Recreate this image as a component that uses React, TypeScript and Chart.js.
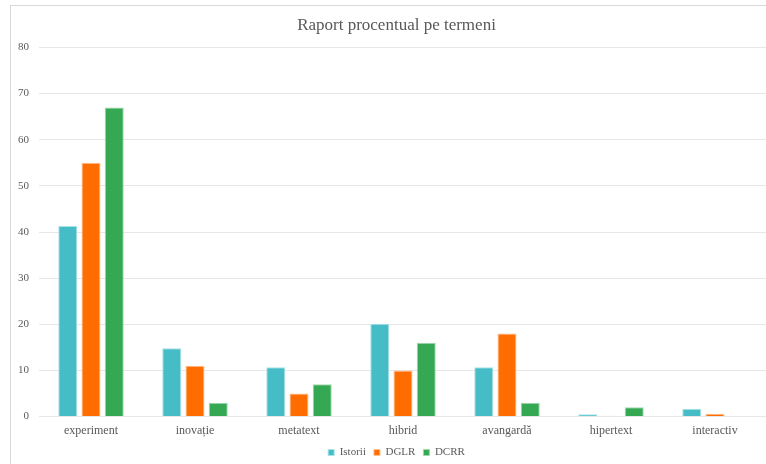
import React, { useEffect, useRef } from "react";
import { Chart, registerables } from "chart.js";

Chart.register(...registerables);

const categories = ["experiment", "inovație", "metatext", "hibrid", "avangardă", "hipertext", "interactiv"];
const istorii = [41.3, 14.8, 10.7, 20.1, 10.7, 0.5, 1.7];
const dglr = [55, 11, 5, 10, 18, 0.2, 0.6];
const dcrr = [67, 3, 7, 16, 3, 2, 0];
const yTicks = [0, 10, 20, 30, 40, 50, 60, 70, 80];

const FONT = "'Liberation Serif', 'Times New Roman', serif";
const TEXT = "#595959";

export default function App() {
  const ref = useRef<HTMLCanvasElement | null>(null);

  useEffect(() => {
    document.documentElement.style.overflow = "hidden";
    document.body.style.overflow = "hidden";
    const canvas = ref.current;
    if (!canvas) return;
    const series = [
      { label: "Istorii", data: istorii, fill: "#46bcc7", edge: "#a9e2e7" },
      { label: "DGLR", data: dglr, fill: "#ff6d00", edge: "#ffbd8a" },
      { label: "DCRR", data: dcrr, fill: "#34a853", edge: "#9fd8ad" },
    ];
    const chart = new Chart(canvas, {
      type: "bar",
      data: {
        labels: categories,
        datasets: series.map((s) => ({
          label: s.label,
          data: s.data,
          backgroundColor: s.fill,
          borderColor: s.edge,
          borderWidth: 1,
          borderSkipped: "start",
          barPercentage: 0.82,
          categoryPercentage: 0.67,
        })),
      },
      options: {
        responsive: false,
        animation: false,
        layout: { padding: { left: 0, right: 0, top: 0, bottom: 6 } },
        plugins: {
          title: {
            display: true,
            text: "Raport procentual pe termeni",
            color: TEXT,
            font: { family: FONT, size: 17, weight: "normal" },
            padding: { top: 9, bottom: 12 },
          },
          legend: {
            position: "bottom",
            labels: {
              color: TEXT,
              font: { family: FONT, size: 11 },
              boxWidth: 6,
              boxHeight: 6,
              padding: 8,
            },
          },
          tooltip: { enabled: false },
        },
        scales: {
          x: {
            grid: { display: false, drawTicks: false },
            border: { display: false },
            ticks: { color: TEXT, font: { family: FONT, size: 12 }, padding: 7 },
            afterFit: (s: any) => {
              s.height = s.height - 6;
            },
          },
          y: {
            min: 0,
            max: 80,
            afterFit: (s: any) => {
              s.width = 28;
            },
            afterBuildTicks: (s: any) => {
              s.ticks = yTicks.map((v) => ({ value: v }));
            },
            grid: { color: "#e6e6e6", lineWidth: 1, drawTicks: false },
            border: { display: false },
            ticks: { color: TEXT, font: { family: FONT, size: 11 }, padding: 10 },
          },
          // empty right-hand margin so the plot ends short of the frame
          yRight: {
            position: "right",
            display: true,
            grid: { display: false, drawTicks: false },
            border: { display: false },
            ticks: { display: false },
            afterFit: (s: any) => {
              s.width = 15;
            },
          },
        },
      },
    });
    return () => chart.destroy();
  }, []);

  return (
    <div
      style={{
        position: "fixed",
        left: 10,
        top: 5,
        width: 773,
        height: 470,
        boxSizing: "border-box",
        border: "1px solid #d9d9d9",
        background: "#fff",
      }}
    >
      <canvas ref={ref} width={771} height={468} style={{ display: "block" }} />
    </div>
  );
}
